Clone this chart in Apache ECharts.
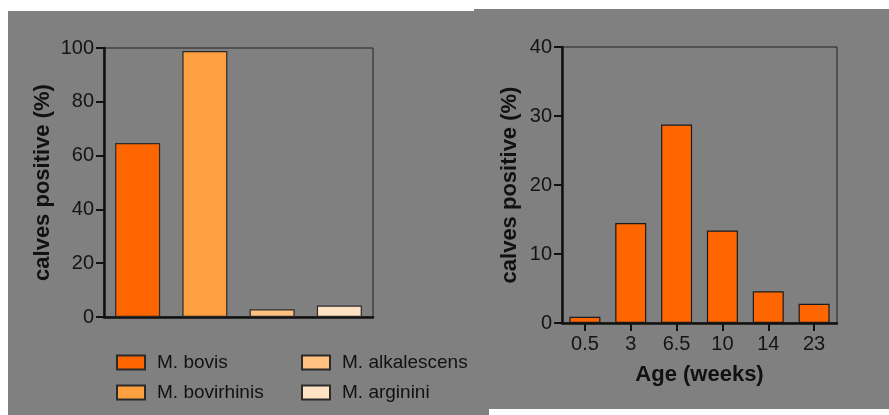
<!DOCTYPE html>
<html><head><meta charset="utf-8">
<script src="https://cdn.jsdelivr.net/npm/echarts@6/dist/echarts.min.js"></script>
<style>html,body{margin:0;padding:0;background:#fff}#c{width:889px;height:415px}</style>
</head><body><div id="c"></div>
<script>
// Left panel data
const speciesNames = ['M. bovis', 'M. bovirhinis', 'M. alkalescens', 'M. arginini'];
const speciesValues = [64.7, 98.9, 2.9, 4.3];
const speciesColors = ['#FF6600', '#FFA040', '#FFC080', '#FFE2C4'];
const leftTicks = { min: 0, max: 100, interval: 20 };
// Right panel data
const ageCategories = ['0.5', '3', '6.5', '10', '14', '23'];
const ageValues = [0.9, 14.5, 28.75, 13.4, 4.6, 2.8];
const rightTicks = { min: 0, max: 40, interval: 10 };

const FONT = 'Liberation Sans, Arial, sans-serif';
const chart = echarts.init(document.getElementById('c'), null, { renderer: 'canvas' });

function yAxis(gridIndex, t, gap) {
  return {
    type: 'value', gridIndex, min: t.min, max: t.max, interval: t.interval,
    name: 'calves positive (%)', nameLocation: 'middle', nameRotate: 90, nameGap: gap,
    nameTextStyle: { fontFamily: FONT, fontSize: 22, fontWeight: 'bold', color: '#111' },
    axisLine: { show: true, lineStyle: { color: '#111', width: 2.5 } },
    axisTick: { show: true, length: 8, lineStyle: { color: '#111', width: 2 } },
    axisLabel: { fontFamily: FONT, fontSize: 20, color: '#141414', margin: 10 },
    splitLine: { show: false }
  };
}

const leftSeries = speciesNames.map((n, i) => ({
  name: n, type: 'bar', xAxisIndex: 0, yAxisIndex: 0,
  barWidth: 45, barGap: '-100%',
  itemStyle: { color: speciesColors[i], borderColor: '#2a2a2a', borderWidth: 1.2 },
  data: speciesNames.map((_, j) => j === i ? speciesValues[i] : '-')
}));

const legendText = { fontFamily: FONT, fontSize: 19, color: '#111', lineHeight: 19, padding: [0, 0, 0, 7] };

chart.setOption({
  animation: false,
  backgroundColor: '#fff',
  graphic: [
    { type: 'rect', z: -10, shape: { x: 8, y: 11, width: 481, height: 404 }, style: { fill: '#808080' } },
    { type: 'rect', z: -10, shape: { x: 474, y: 9, width: 415, height: 400 }, style: { fill: '#808080' } }
  ],
  grid: [
    { left: 104, top: 48, width: 269, height: 269, show: true, borderColor: '#222', borderWidth: 1, backgroundColor: 'transparent' },
    { left: 562, top: 47, width: 275, height: 276, show: true, borderColor: '#222', borderWidth: 1, backgroundColor: 'transparent' }
  ],
  legend: [
    { data: speciesNames.slice(0, 2), orient: 'vertical', left: 111, top: 348, itemWidth: 28, itemHeight: 14, itemGap: 11, icon: 'rect', textStyle: legendText, selectedMode: false },
    { data: speciesNames.slice(2, 4), orient: 'vertical', left: 296, top: 348, itemWidth: 28, itemHeight: 14, itemGap: 11, icon: 'rect', textStyle: legendText, selectedMode: false }
  ],
  xAxis: [
    { type: 'category', gridIndex: 0, data: speciesNames,
      axisLine: { show: true, lineStyle: { color: '#111', width: 2.5 } },
      axisTick: { show: false }, axisLabel: { show: false } },
    { type: 'category', gridIndex: 1, data: ageCategories,
      name: 'Age (weeks)', nameLocation: 'middle', nameGap: 41,
      nameTextStyle: { fontFamily: FONT, fontSize: 22, fontWeight: 'bold', color: '#111' },
      axisLine: { show: true, lineStyle: { color: '#111', width: 2.5 } },
      axisTick: { show: true, alignWithLabel: true, length: 8, lineStyle: { color: '#111', width: 2 } },
      axisLabel: { fontFamily: FONT, fontSize: 20, color: '#141414', margin: 11 } }
  ],
  yAxis: [ yAxis(0, leftTicks, 50), yAxis(1, rightTicks, 41) ],
  series: leftSeries.concat([{
    name: 'age', type: 'bar', xAxisIndex: 1, yAxisIndex: 1, barWidth: 31,
    itemStyle: { color: '#FF6600', borderColor: '#1a1a1a', borderWidth: 1.2 },
    data: ageValues
  }])
});
</script></body></html>
